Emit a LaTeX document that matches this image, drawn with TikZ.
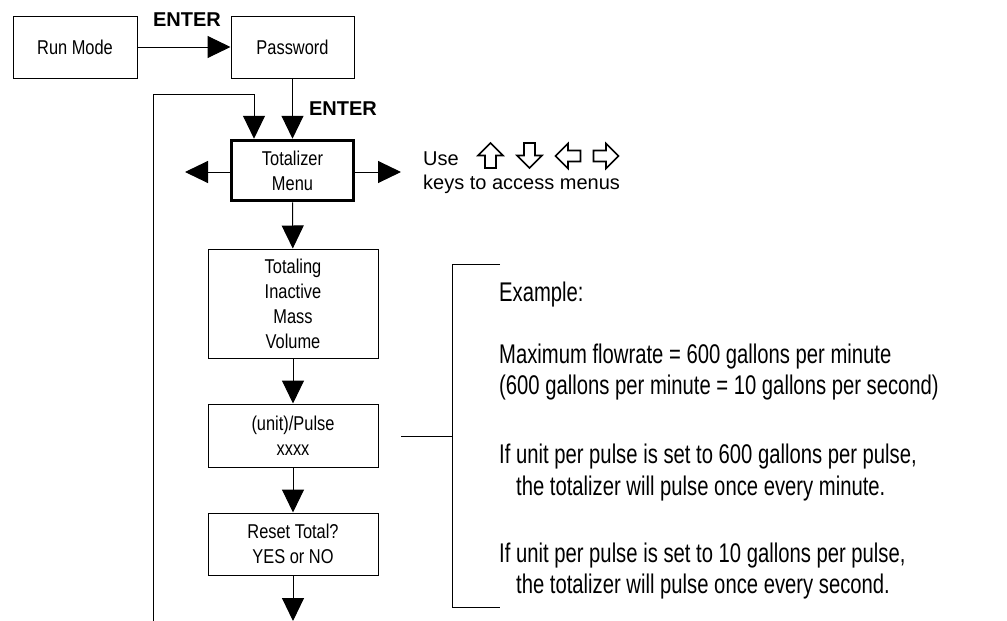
\documentclass[tikz,border=0pt]{standalone}
\usepackage{fontspec}
\setmainfont{Liberation Sans}
\newfontfamily\narrow[FakeStretch=0.82]{Liberation Sans}
\newfontfamily\exfont[FakeStretch=0.75]{Liberation Sans}
\usetikzlibrary{arrows.meta}
\tikzset{
  boxnode/.style={draw, line width=1pt, inner sep=0pt, align=center,
    font=\narrow\fontsize{20}{25}\selectfont},
  arr/.style={line width=1pt, -{Triangle[length=23pt,width=22pt]}},
  plain/.style={line width=1pt},
  enterlbl/.style={font=\bfseries\fontsize{20}{24}\selectfont, anchor=base, inner sep=0pt},
  extext/.style={font=\exfont\fontsize{27}{31}\selectfont, anchor=base west, inner sep=0pt},
  usetext/.style={font=\fontsize{20}{24}\selectfont, anchor=base west, inner sep=0pt},
  keyarrow/.pic={\draw[line width=1.6pt, line join=miter]
    (0,-12.5) -- (12.5,0) -- (5.5,0) -- (5.5,12.5) -- (-5.5,12.5) -- (-5.5,0) -- (-12.5,0) -- cycle;}
}
\begin{document}
\begin{tikzpicture}[x=1pt,y=-1pt]
\useasboundingbox (0,0) rectangle (1007,621);
% nodes
\node[boxnode, minimum width=124pt, minimum height=62pt] (run) at (75,47) {Run Mode};
\node[boxnode, minimum width=123pt, minimum height=62pt] (pw) at (292.5,47) {Password};
\node[boxnode, line width=3.5pt, minimum width=122pt, minimum height=60pt] (tot) at (292.5,170.5) {Totalizer\\Menu};
\node[boxnode, minimum width=170pt, minimum height=109pt] (tling) at (293,303.5) {Totaling\\Inactive\\Mass\\Volume};
\node[boxnode, minimum width=170pt, minimum height=63pt] (pulse) at (293,435.5) {(unit)/Pulse\\xxxx};
\node[boxnode, minimum width=170pt, minimum height=62pt] (reset) at (293,544) {Reset Total?\\YES or NO};
% labels
\node[enterlbl] (e1) at (187,26) {ENTER};
\node[enterlbl] (e2) at (343,115) {ENTER};
\node[usetext] (use) at (423,165) {Use};
\node[usetext] (keys) at (423,189) {keys to access menus};
\pic at (490.5,155.5) {keyarrow};
\pic[rotate=180] at (529.5,155.5) {keyarrow};
\pic[rotate=90] at (568,156) {keyarrow};
\pic[rotate=-90] at (606,156) {keyarrow};
% coordinates
\coordinate (lb) at (153,621);
\coordinate (lt) at (254,94);
\coordinate (lo) at (185,172);
\coordinate (ro) at (401,172);
\coordinate (bo) at (293,621);
\coordinate (bs) at (401,436);
\coordinate (bm) at (452,436);
% connectors
\draw[arr] (run) -- (pw);
\draw[arr] (pw) -- (tot);
\draw[arr] (lb) |- (lt) -- (lt |- tot.north);
\draw[arr] (tot.west |- lo) -- (lo);
\draw[arr] (tot.east |- ro) -- (ro);
\draw[arr] (tot) -- (tling);
\draw[arr] (tling) -- (pulse);
\draw[arr] (pulse) -- (reset);
\draw[arr] (reset) -- (bo);
% bracket
\draw[plain] (bs) -- (bm);
\draw[plain] (500,264) -- (452,264) -- (452,607) -- (500,607);
% example text
\node[extext] (t0) at (499,301) {Example:};
\node[extext] (t1) at (499,363) {Maximum flowrate = 600 gallons per minute};
\node[extext] (t2) at (499,394) {(600 gallons per minute = 10 gallons per second)};
\node[extext] (t3) at (499,463) {If unit per pulse is set to 600 gallons per pulse,};
\node[extext] (t4) at (516,495) {the totalizer will pulse once every minute.};
\node[extext] (t5) at (499,562) {If unit per pulse is set to 10 gallons per pulse,};
\node[extext] (t6) at (516,593) {the totalizer will pulse once every second.};
\end{tikzpicture}
\end{document}
